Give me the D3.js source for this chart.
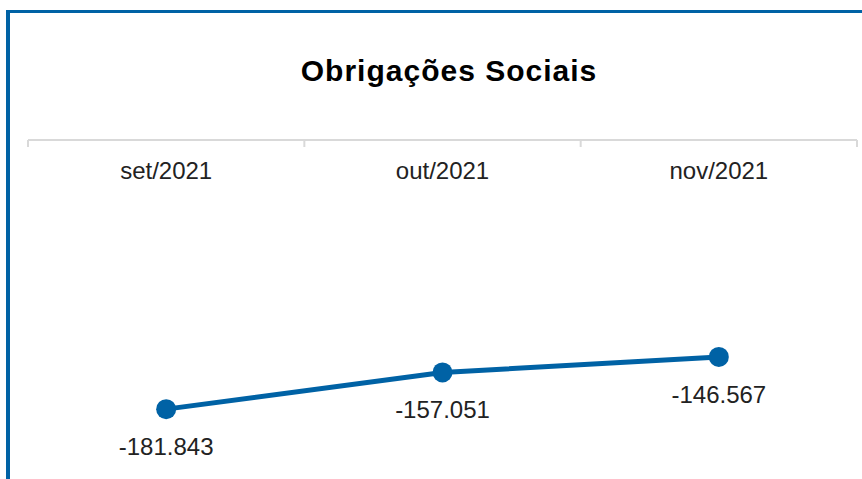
<!DOCTYPE html>
<html>
<head>
<meta charset="utf-8">
<script src="https://cdn.jsdelivr.net/npm/d3@7"></script>
<style>
  html, body { margin: 0; padding: 0; background: #fff; }
  svg { display: block; }
  text { font-family: "Liberation Sans", Arial, sans-serif; }
</style>
</head>
<body>
<div id="chart"></div>
<script>
// data
var months = ["set/2021", "out/2021", "nov/2021"];
var values = [-181.843, -157.051, -146.567];
var chartTitle = "Obrigações Sociais";

var width = 862, height = 479;
var blue = "#0062a5";

var svg = d3.select("#chart").append("svg")
  .attr("width", width)
  .attr("height", height);

// frame: blue top and left border
svg.append("rect")
  .attr("x", 6).attr("y", 10)
  .attr("width", width - 6).attr("height", 3)
  .style("fill", blue);
svg.append("rect")
  .attr("x", 6).attr("y", 10)
  .attr("width", 4).attr("height", height - 10)
  .style("fill", blue);

svg.append("text")
  .attr("x", 449).attr("y", 81)
  .style("text-anchor", "middle")
  .style("font-weight", "bold")
  .style("font-size", "30px")
  .style("letter-spacing", "1px")
  .style("fill", "#000")
  .text(chartTitle);

// scales
var x = d3.scaleBand().domain(months).range([28, 857]);
var y = d3.scaleLinear().domain([0, -200]).range([140, 436]);

// category axis along the top (values are all negative, so it sits at 0)
var axis = svg.append("g")
  .attr("transform", "translate(0," + y(0) + ")")
  .call(d3.axisBottom(x).tickSize(0).tickPadding(22));
axis.select(".domain").remove();
axis.selectAll("text")
  .style("font-size", "24px")
  .style("font-family", "Liberation Sans, Arial, sans-serif")
  .style("fill", "#222");

// baseline and tick marks between categories
axis.append("line")
  .attr("x1", x.range()[0]).attr("x2", x.range()[1])
  .attr("y1", 0).attr("y2", 0)
  .style("stroke", "#d9d9d9").style("stroke-width", 2);
var edges = months.map(function(m) { return x(m); }).concat([x.range()[1]]);
axis.selectAll(".sep").data(edges).enter().append("line")
  .attr("class", "sep")
  .attr("x1", function(d) { return d; }).attr("x2", function(d) { return d; })
  .attr("y1", 0).attr("y2", 7)
  .style("stroke", "#d9d9d9").style("stroke-width", 2);

var pts = months.map(function(m, i) { return { label: m, value: values[i] }; });
var cx = function(d) { return x(d.label) + x.bandwidth() / 2; };

var line = d3.line()
  .x(cx)
  .y(function(d) { return y(d.value); });

svg.append("path")
  .datum(pts)
  .attr("d", line)
  .style("fill", "none")
  .style("stroke", blue)
  .style("stroke-width", 5)
  .style("stroke-linejoin", "round");

svg.selectAll(".dot").data(pts).enter().append("circle")
  .attr("class", "dot")
  .attr("cx", cx)
  .attr("cy", function(d) { return y(d.value); })
  .attr("r", 10)
  .style("fill", blue);

// plain hyphen for the minus sign, as in the original
var fmt = function(v) { return d3.format(".3f")(v).replace("\u2212", "-"); };
svg.selectAll(".lbl").data(pts).enter().append("text")
  .attr("class", "lbl")
  .attr("x", cx)
  .attr("y", function(d) { return y(d.value) + 46; })
  .style("text-anchor", "middle")
  .style("font-size", "24px")
  .style("fill", "#222")
  .text(function(d) { return fmt(d.value); });
</script>
</body>
</html>
